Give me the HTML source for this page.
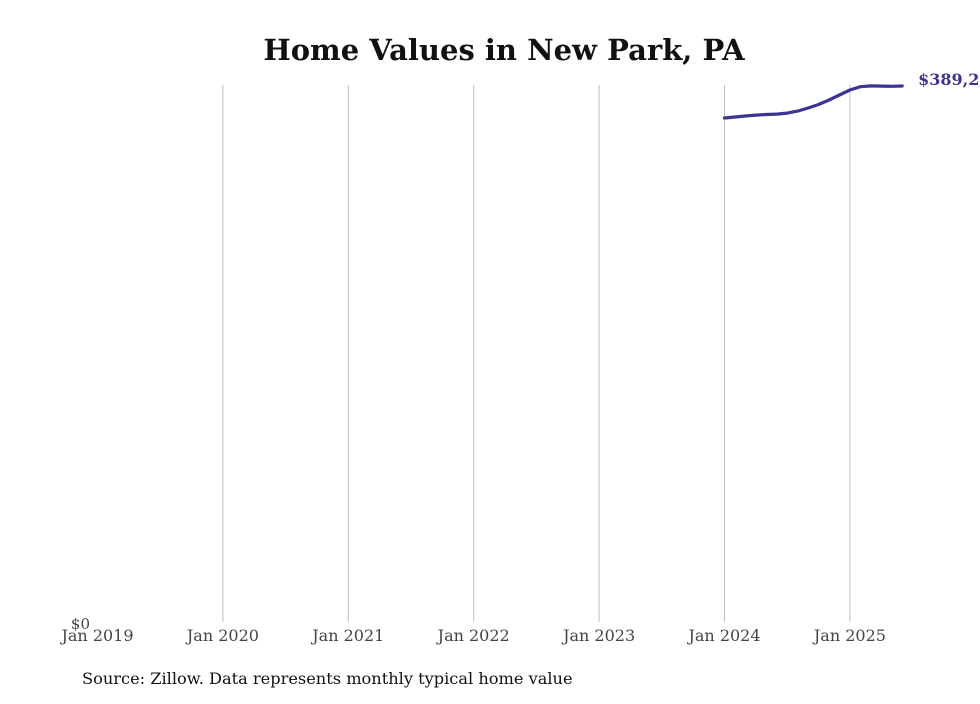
<!DOCTYPE html>
<html><head><meta charset="utf-8"><style>
body{margin:0;background:#fff;}
svg text{font-family:"DejaVu Serif","Liberation Serif",serif;}
</style></head><body>
<svg width="980" height="699" viewBox="0 0 980 699">
<text x="504" y="60" text-anchor="middle" font-size="29" font-weight="bold" fill="#111">Home Values in New Park, PA</text>
<g id="grid"></g>
<g id="xticks"></g>
<text x="90" y="629" text-anchor="end" font-size="15" fill="#444">$0</text>
<path id="line" fill="none" stroke="#3a3594" stroke-width="3.2" stroke-linejoin="round" stroke-linecap="round"/>
<text id="lastlabel" font-size="16" font-weight="bold" fill="#3b3494"></text>
<text x="82" y="684" font-size="16.2" fill="#111">Source: Zillow. Data represents monthly typical home value</text>
</svg>
<script>
const tickLabels=["Jan 2019","Jan 2020","Jan 2021","Jan 2022","Jan 2023","Jan 2024","Jan 2025"];
const startMonth=60; // months since Jan 2019 (Jan 2024)
const values=[365950,366700,367400,368100,368500,368800,369500,371000,373200,375800,379000,382700,386300,388700,389300,389100,389000,389200];
const yMax=389200;
const x0=97.5,pxPerYear=125.4,yZero=622,yTop=86;
function xs(m){return x0+m/12*pxPerYear;}
function ys(v){return yZero-(v/yMax)*(yZero-yTop);}
const NS="http://www.w3.org/2000/svg";
const grid=document.getElementById('grid'),xt=document.getElementById('xticks');
tickLabels.forEach((t,i)=>{
  const x=xs(i*12);
  if(i>0){const l=document.createElementNS(NS,'line');
    l.setAttribute('x1',x);l.setAttribute('x2',x);l.setAttribute('y1',85);l.setAttribute('y2',622);
    l.setAttribute('stroke','#bfbfbf');l.setAttribute('stroke-width','1');
    
    
    grid.appendChild(l);}
  const tx=document.createElementNS(NS,'text');
  tx.setAttribute('x',x);tx.setAttribute('y',641);tx.setAttribute('text-anchor','middle');
  tx.setAttribute('font-size','16');tx.setAttribute('fill','#444');tx.textContent=t;
  
  
  xt.appendChild(tx);
});
let d='';
values.forEach((v,i)=>{d+=(i?'L':'M')+xs(startMonth+i).toFixed(1)+','+ys(v).toFixed(1);});
document.getElementById('line').setAttribute('d',d);
const last=values[values.length-1];
const lbl=document.getElementById('lastlabel');
lbl.setAttribute('x',xs(startMonth+values.length-1)+16);
lbl.setAttribute('y',ys(last)-1);
lbl.textContent='$'+last.toLocaleString('en-US');
</script>
</body></html>
